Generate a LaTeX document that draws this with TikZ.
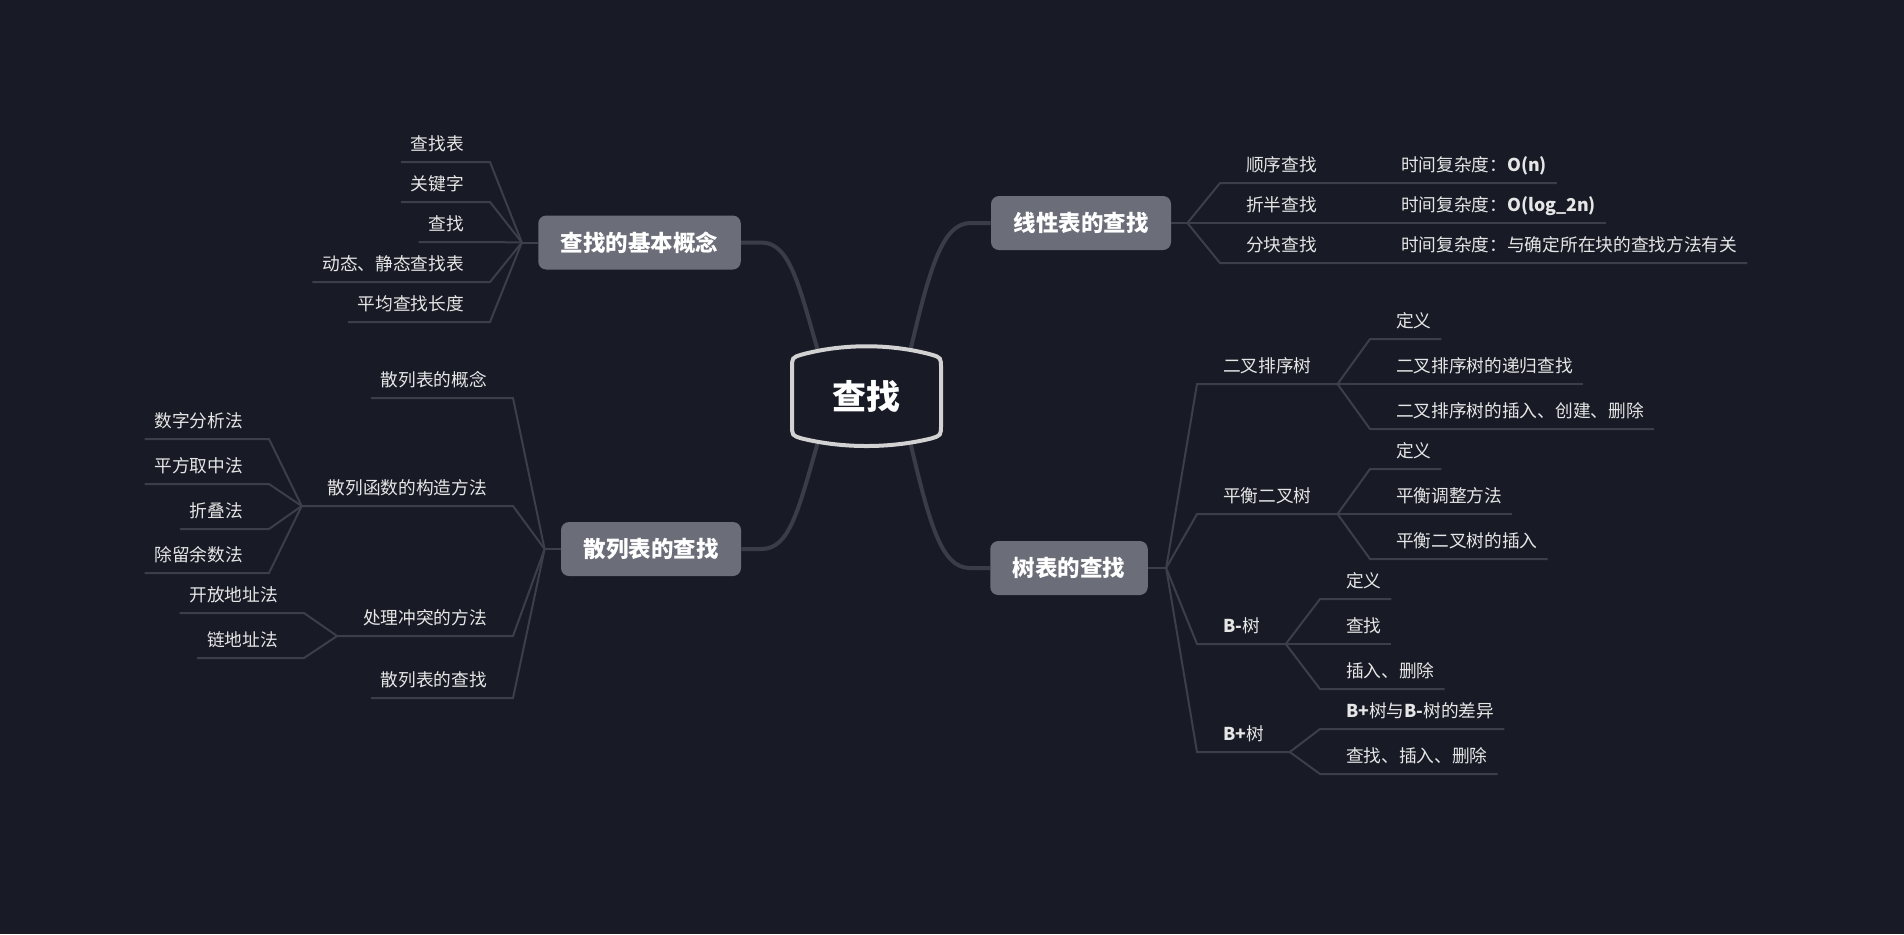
\documentclass[tikz,border=0pt]{standalone}
\usepackage{fontspec}
\setmainfont{Noto Sans CJK SC}
\usepackage{tikz}
\usetikzlibrary{positioning}
\usepackage{xcolor}
\definecolor{bgcol}{HTML}{181A25}
\definecolor{topicfill}{HTML}{6B6D78}
\definecolor{branchgray}{HTML}{3A3C48}
\definecolor{twiggray}{HTML}{3C3E4A}
\definecolor{leaftext}{HTML}{E6E6E6}
\definecolor{rimgray}{HTML}{D2D2D2}

\begin{document}
\begin{tikzpicture}[x=0.5pt, y=-0.5pt,
  root/.style={text=white, font=\fontsize{17pt}{20pt}\selectfont\bfseries, minimum width=76.5pt, minimum height=51.5pt, inner sep=0pt},
  rim/.style={draw=rimgray, line width=2pt},
  topic/.style={fill=topicfill, rounded corners=4pt, text=white, font=\fontsize{11.25pt}{13pt}\selectfont\bfseries, inner xsep=11.25pt, inner ysep=0pt, minimum height=27pt},
  leaf/.style={text=leaftext, font=\fontsize{8.85pt}{10pt}\selectfont, inner xsep=5pt, inner ysep=5pt, text depth=0.75pt, outer sep=0pt},
  branch/.style={draw=branchgray, line width=2pt},
  twig/.style={draw=twiggray, line width=1pt}
]

% Background
\fill[bgcol] (0,0) rectangle (1904,934);

% Centre and main topics
\node[root] (root) at (866.5,396.5) {查找};
\node[topic] (basic) at (639.5,242.5) {查找的基本概念};
\node[topic] (hash) at (651,549) {散列表的查找};
\node[topic] (linear) at (1081,223) {线性表的查找};
\node[topic] (tree) at (1069,568) {树表的查找};

\draw[branch] ([yshift=-3.5pt]root.133) .. controls +(-20,-70) and +(28,0) .. ([xshift=10pt]basic.east) -- (basic.east);
\draw[branch] ([yshift=3.5pt]root.-133) .. controls +(-20,70) and +(28,0) .. ([xshift=10pt]hash.east) -- (hash.east);
\draw[branch] ([yshift=-3.5pt]root.50) .. controls +(20,-85) and +(-28,0) .. ([xshift=-10pt]linear.west) -- (linear.west);
\draw[branch] ([yshift=3.5pt]root.-50) .. controls +(20,85) and +(-28,0) .. ([xshift=-10pt]tree.west) -- (tree.west);

% Rim of the centre
\draw[rim, shift={(root.center)}] (-74.5,-28) .. controls (-74.5,-39) .. (-64.5,-42)
  .. controls (-23.5,-53) and (23.5,-53) .. (64.5,-42) .. controls (74.5,-39) .. (74.5,-28)
  -- (74.5,28) .. controls (74.5,39) .. (64.5,42)
  .. controls (23.5,52) and (-23.5,52) .. (-64.5,42) .. controls (-74.5,39) .. (-74.5,28) -- cycle;

% Basic concepts (left top)
\node[leaf, anchor=south east] (b1) at (474,162) {查找表};
\node[leaf, anchor=south east] (b2) at (474,202) {关键字};
\node[leaf, anchor=south east] (b3) at (474,242) {查找};
\node[leaf, anchor=south east] (b4) at (474,282) {动态、静态查找表};
\node[leaf, anchor=south east] (b5) at (474,322) {平均查找长度};
\coordinate (fb) at ([xshift=-8pt]basic.west);
\draw[twig] (basic.west) -- (fb);
\draw[twig] (fb) -- ([xshift=8pt]b1.south east) -- (b1.south west);
\draw[twig] (fb) -- ([xshift=8pt]b2.south east) -- (b2.south west);
\draw[twig] (fb) -- ([xshift=8pt]b3.south east) -- (b3.south west);
\draw[twig] (fb) -- ([xshift=8pt]b4.south east) -- (b4.south west);
\draw[twig] (fb) -- ([xshift=8pt]b5.south east) -- (b5.south west);

% Hash tables (left bottom)
\node[leaf, anchor=south east] (h1) at (497,398) {散列表的概念};
\node[leaf, anchor=south east] (h2) at (497,506) {散列函数的构造方法};
\node[leaf, anchor=south east] (h3) at (497,636) {处理冲突的方法};
\node[leaf, anchor=south east] (h4) at (497,698) {散列表的查找};
\coordinate (fh) at ([xshift=-8pt]hash.west);
\coordinate (fh2) at ([xshift=-8pt]h2.south west);
\coordinate (fh3) at ([xshift=-8pt]h3.south west);
\draw[twig] (hash.west) -- (fh);
\draw[twig] (fh) -- ([xshift=8pt]h1.south east) -- (h1.south west);
\draw[twig] (fh) -- ([xshift=8pt]h2.south east) -- (fh2);
\draw[twig] (fh) -- ([xshift=8pt]h3.south east) -- (fh3);
\draw[twig] (fh) -- ([xshift=8pt]h4.south east) -- (h4.south west);

\node[leaf, anchor=south east] (h21) at (253,439) {数字分析法};
\node[leaf, anchor=south east] (h22) at (253,484) {平方取中法};
\node[leaf, anchor=south east] (h23) at (253,529) {折叠法};
\node[leaf, anchor=south east] (h24) at (253,573) {除留余数法};
\draw[twig] (fh2) -- ([xshift=8pt]h21.south east) -- (h21.south west);
\draw[twig] (fh2) -- ([xshift=8pt]h22.south east) -- (h22.south west);
\draw[twig] (fh2) -- ([xshift=8pt]h23.south east) -- (h23.south west);
\draw[twig] (fh2) -- ([xshift=8pt]h24.south east) -- (h24.south west);

\node[leaf, anchor=south east] (h31) at (288,613) {开放地址法};
\node[leaf, anchor=south east] (h32) at (288,658) {链地址法};
\draw[twig] (fh3) -- ([xshift=8pt]h31.south east) -- (h31.south west);
\draw[twig] (fh3) -- ([xshift=8pt]h32.south east) -- (h32.south west);

% Linear tables (right top)
\node[leaf, anchor=south west] (l1) at (1236,183) {顺序查找};
\node[leaf, anchor=south west] (l2) at (1236,223) {折半查找};
\node[leaf, anchor=south west] (l3) at (1236,263) {分块查找};
\node[leaf, anchor=south west] (t1) at (1391,183) {时间复杂度：\textbf{O(n)}};
\node[leaf, anchor=south west] (t2) at (1391,223) {时间复杂度：\textbf{O(log\_2n)}};
\node[leaf, anchor=south west] (t3) at (1391,263) {时间复杂度：与确定所在块的查找方法有关};
\coordinate (fl) at ([xshift=8pt]linear.east);
\draw[twig] (linear.east) -- (fl);
\draw[twig] (fl) -- ([xshift=-8pt]l1.south west) -- (t1.south east);
\draw[twig] (fl) -- ([xshift=-8pt]l2.south west) -- (t2.south east);
\draw[twig] (fl) -- ([xshift=-8pt]l3.south west) -- (t3.south east);

% Trees (right bottom)
\node[leaf, anchor=south west] (r1) at (1213,384) {二叉排序树};
\node[leaf, anchor=south west] (r2) at (1213,514) {平衡二叉树};
\node[leaf, anchor=south west] (r3) at (1213,644) {\textbf{B-}树};
\node[leaf, anchor=south west] (r4) at (1213,752) {\textbf{B+}树};
\coordinate (ft) at ([xshift=9pt]tree.east);
\coordinate (fr1) at ([xshift=8pt]r1.south east);
\coordinate (fr2) at ([xshift=8pt]r2.south east);
\coordinate (fr3) at ([xshift=8pt]r3.south east);
\coordinate (fr4) at ([xshift=8pt]r4.south east);
\draw[twig] (tree.east) -- (ft);
\draw[twig] (ft) -- ([xshift=-8pt]r1.south west) -- (fr1);
\draw[twig] (ft) -- ([xshift=-8pt]r2.south west) -- (fr2);
\draw[twig] (ft) -- ([xshift=-8pt]r3.south west) -- (fr3);
\draw[twig] (ft) -- ([xshift=-8pt]r4.south west) -- (fr4);

\node[leaf, anchor=south west] (r11) at (1386,339) {定义};
\node[leaf, anchor=south west] (r12) at (1386,384) {二叉排序树的递归查找};
\node[leaf, anchor=south west] (r13) at (1386,429) {二叉排序树的插入、创建、删除};
\draw[twig] (fr1) -- ([xshift=-8pt]r11.south west) -- (r11.south east);
\draw[twig] (fr1) -- ([xshift=-8pt]r12.south west) -- (r12.south east);
\draw[twig] (fr1) -- ([xshift=-8pt]r13.south west) -- (r13.south east);

\node[leaf, anchor=south west] (r21) at (1386,469) {定义};
\node[leaf, anchor=south west] (r22) at (1386,514) {平衡调整方法};
\node[leaf, anchor=south west] (r23) at (1386,559) {平衡二叉树的插入};
\draw[twig] (fr2) -- ([xshift=-8pt]r21.south west) -- (r21.south east);
\draw[twig] (fr2) -- ([xshift=-8pt]r22.south west) -- (r22.south east);
\draw[twig] (fr2) -- ([xshift=-8pt]r23.south west) -- (r23.south east);

\node[leaf, anchor=south west] (r31) at (1336,599) {定义};
\node[leaf, anchor=south west] (r32) at (1336,644) {查找};
\node[leaf, anchor=south west] (r33) at (1336,689) {插入、删除};
\draw[twig] (fr3) -- ([xshift=-8pt]r31.south west) -- (r31.south east);
\draw[twig] (fr3) -- ([xshift=-8pt]r32.south west) -- (r32.south east);
\draw[twig] (fr3) -- ([xshift=-8pt]r33.south west) -- (r33.south east);

\node[leaf, anchor=south west] (r41) at (1336,729) {\textbf{B+}树与\textbf{B-}树的差异};
\node[leaf, anchor=south west] (r42) at (1336,774) {查找、插入、删除};
\draw[twig] (fr4) -- ([xshift=-8pt]r41.south west) -- (r41.south east);
\draw[twig] (fr4) -- ([xshift=-8pt]r42.south west) -- (r42.south east);

\end{tikzpicture}
\end{document}
